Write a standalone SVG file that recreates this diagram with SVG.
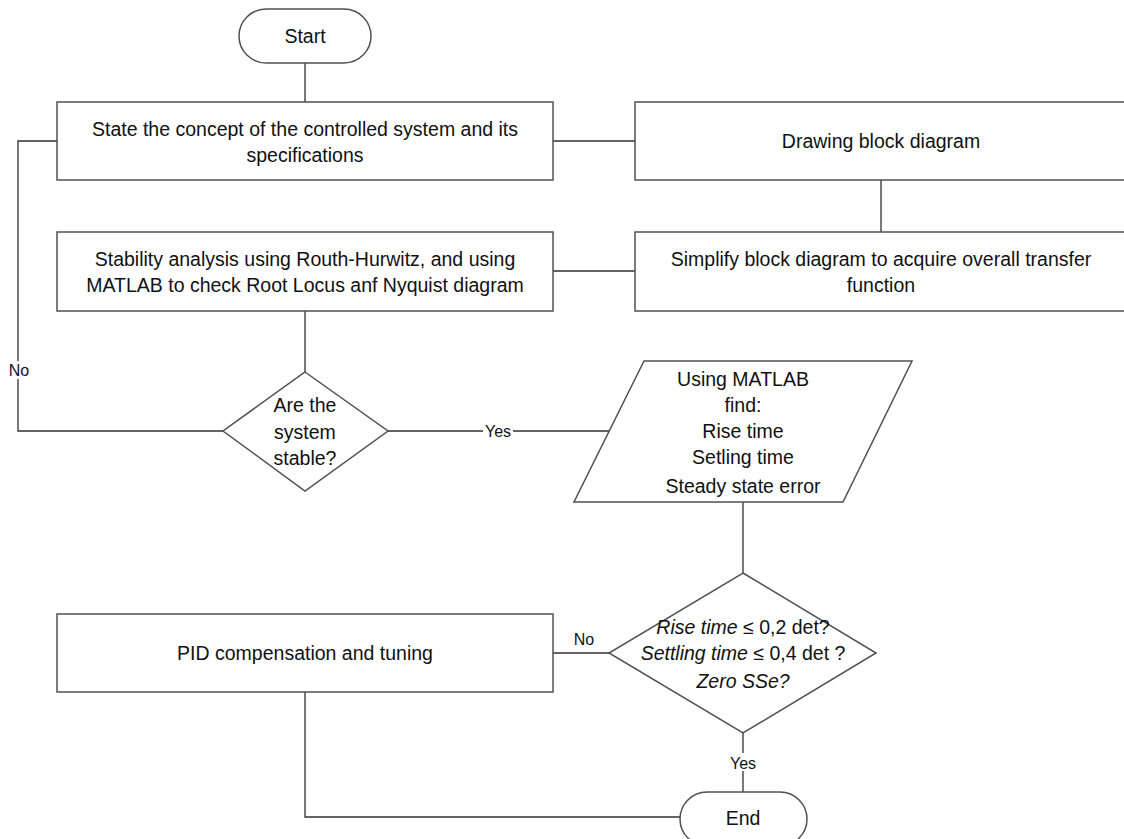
<svg xmlns="http://www.w3.org/2000/svg" width="1124" height="839" viewBox="0 0 1124 839">
<style>
.n{fill:#fff;stroke:#505050;stroke-width:1.5}
.c{fill:none;stroke:#303030;stroke-width:1.3}
text{font-family:"Liberation Sans",Arial,sans-serif;font-size:19.5px;fill:#111;text-anchor:middle}
.s{font-size:16px}
.i{font-style:italic}
.lb{fill:#fff;stroke:none}
</style>
<rect width="1124" height="839" fill="#fff"/>
<g id="connectors">
<path class="c" d="M305,63 V102"/>
<path class="c" d="M553,141 H635"/>
<path class="c" d="M881,180 V232"/>
<path class="c" d="M635,271 H553"/>
<path class="c" d="M305,311 V372"/>
<path class="c" d="M223,431 H18 V141 H57"/>
<rect class="lb" x="6" y="361" width="26" height="18"/>
<text class="s" x="19" y="376">No</text>
<path class="c" d="M388,431 H609"/>
<rect class="lb" x="483" y="423" width="30" height="16"/>
<text class="s" x="498" y="437">Yes</text>
<path class="c" d="M743,502 V573"/>
<path class="c" d="M609,653 H553"/>
<text class="s" x="584" y="645">No</text>
<path class="c" d="M743,733 V792"/>
<rect class="lb" x="727" y="753" width="32" height="18"/>
<text class="s" x="743" y="769">Yes</text>
<path class="c" d="M305,692 V817 H680"/>
</g>
<g id="start">
<rect class="n" x="239" y="9" width="132" height="54" rx="27"/>
<text x="305" y="43">Start</text>
</g>
<g id="state">
<rect class="n" x="57" y="102" width="496" height="78"/>
<text x="305" y="136">State the concept of the controlled system and its</text>
<text x="305" y="162">specifications</text>
</g>
<g id="drawing">
<rect class="n" x="635" y="102" width="492" height="78"/>
<text x="881" y="148">Drawing block diagram</text>
</g>
<g id="simplify">
<rect class="n" x="635" y="232" width="492" height="79"/>
<text x="881" y="266">Simplify block diagram to acquire overall transfer</text>
<text x="881" y="292">function</text>
</g>
<g id="stability">
<rect class="n" x="57" y="232" width="496" height="79"/>
<text x="305" y="266">Stability analysis using Routh-Hurwitz, and using</text>
<text x="305" y="292">MATLAB to check Root Locus anf Nyquist diagram</text>
</g>
<g id="stable">
<polygon class="n" points="305,372 388,431 305,491 223,431"/>
<text x="305" y="412">Are the</text>
<text x="305" y="439">system</text>
<text x="305" y="465">stable?</text>
</g>
<g id="matlab">
<polygon class="n" points="644,361 912,361 843,502 574,502"/>
<text x="743" y="386">Using MATLAB</text>
<text x="743" y="412">find:</text>
<text x="743" y="438">Rise time</text>
<text x="743" y="464">Setling time</text>
<text x="743" y="493">Steady state error</text>
</g>
<g id="criteria">
<polygon class="n" points="743,573 876,653 743,733 609,653"/>
<text x="743" y="634"><tspan class="i">Rise time</tspan> ≤ 0,2 det?</text>
<text x="743" y="660"><tspan class="i">Settling time</tspan> ≤ 0,4 det ?</text>
<text x="743" y="688" class="i">Zero SSe?</text>
</g>
<g id="pid">
<rect class="n" x="57" y="614" width="496" height="78"/>
<text x="305" y="660">PID compensation and tuning</text>
</g>
<g id="end">
<rect class="n" x="680" y="792" width="127" height="54" rx="27"/>
<text x="743" y="825">End</text>
</g>
</svg>
